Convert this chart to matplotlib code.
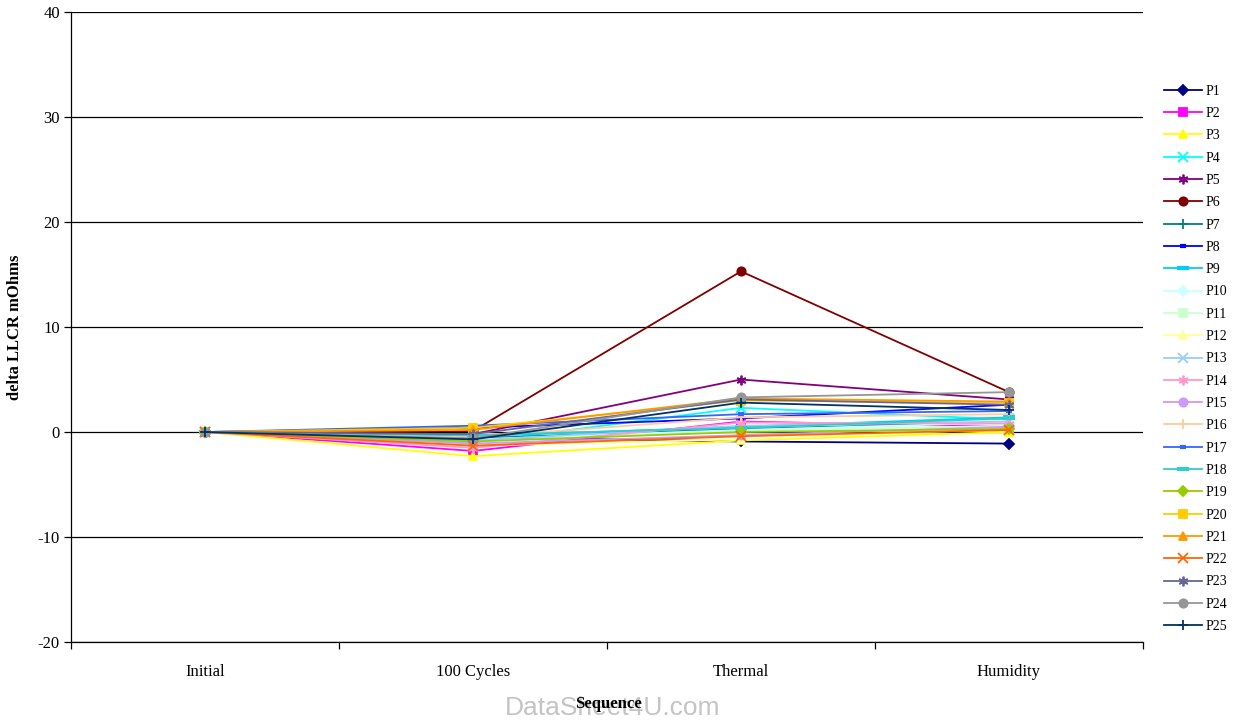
import matplotlib
matplotlib.use("Agg")
import matplotlib.pyplot as plt

plt.rcParams["font.family"] = ["Liberation Serif", "DejaVu Serif"]
plt.rcParams["axes.unicode_minus"] = False

stages = ["Initial", "100 Cycles", "Thermal", "Humidity"]

P1 = [0, -0.5, -0.9, -1.1]
P2 = [0, -1.8, 1.0, 0.5]
P3 = [0, -2.3, -0.8, 0.0]
P4 = [0, -1.0, 2.3, 1.2]
P5 = [0, -0.2, 5.0, 3.1]
P6 = [0, 0.1, 15.3, 3.8]
P7 = [0, -0.6, 0.3, 0.9]
P8 = [0, 0.4, 1.3, 2.6]
P9 = [0, -0.4, 0.5, 1.4]
P10 = [0, -0.7, 0.2, 0.9]
P11 = [0, -0.9, 0.1, 0.6]
P12 = [0, -1.3, -0.7, 0.3]
P13 = [0, -0.8, 0.6, 1.0]
P14 = [0, -1.5, 0.9, 0.8]
P15 = [0, -1.1, -0.3, 0.5]
P16 = [0, -0.5, 1.4, 1.7]
P17 = [0, 0.6, 1.7, 2.0]
P18 = [0, -0.3, 0.4, 1.3]
P19 = [0, -0.9, 0.0, 0.3]
P20 = [0, 0.4, 3.0, 2.8]
P21 = [0, 0.2, 3.2, 2.9]
P22 = [0, -1.3, -0.4, 0.2]
P23 = [0, -0.2, 3.1, 2.6]
P24 = [0, -0.6, 3.3, 3.8]
P25 = [0, -0.7, 2.8, 2.1]

series = [P1, P2, P3, P4, P5, P6, P7, P8, P9, P10, P11, P12, P13,
          P14, P15, P16, P17, P18, P19, P20, P21, P22, P23, P24, P25]
names = ["P%d" % (i + 1) for i in range(len(series))]

colors = ["#000080", "#FF00FF", "#FFFF00", "#00FFFF", "#800080", "#800000",
          "#008080", "#0000FF", "#00CCFF", "#CCFFFF", "#CCFFCC", "#FFFF99",
          "#99CCFF", "#FF99CC", "#CC99FF", "#FFCC99", "#3366FF", "#33CCCC",
          "#99CC00", "#FFCC00", "#FF9900", "#FF6600", "#666699", "#969696",
          "#003366"]
star = (6, 2, 0)
markers = ["D", "s", "^", "x", star, "o", "+", "_", "_",
           "D", "s", "^", "x", star, "o", "+", "_", "_",
           "D", "s", "^", "x", star, "o", "+"]

fig = plt.figure(figsize=(12.33, 7.2), dpi=100)
ax = fig.add_axes([0.0576, 0.1083, 0.8694, 0.875])

x = list(range(len(stages)))
for i, (vals, name) in enumerate(zip(series, names)):
    m = markers[i]
    ms = 6
    mew = 1.3
    if m == "_":
        ms = 5 if (i % 9) == 7 else 8
        mew = 3
    elif m in ("x", "+") or m == star:
        ms = 7
        mew = 1.3
    elif m == "D":
        ms = 5.5
    ax.plot(x, vals, color=colors[i], marker=m, markersize=ms,
            markeredgewidth=mew, markeredgecolor=colors[i],
            markerfacecolor=colors[i], linewidth=1.3, label=name,
            zorder=3 + i)

ax.set_xlim(-0.5, 3.5)
ax.set_ylim(-20, 40)
ax.set_yticks(range(-20, 41, 10))
ax.yaxis.grid(True, color="black", linewidth=0.9)
ax.set_axisbelow(True)
ax.set_xticks(x)
ax.set_xticklabels(stages)
ax.set_xticks([-0.5, 0.5, 1.5, 2.5, 3.5], minor=True)
ax.tick_params(axis="x", which="major", length=0, pad=16, labelsize=12)
ax.tick_params(axis="x", which="minor", length=5, direction="out", width=0.9)
ax.tick_params(axis="y", length=5, direction="out", width=0.9, pad=3,
               labelsize=12)
ax.spines["top"].set_visible(False)
ax.spines["right"].set_visible(False)
ax.spines["left"].set_linewidth(0.9)
ax.spines["bottom"].set_linewidth(0.9)

fig.text(15 / 1233, 1 - 327 / 720, "delta LLCR mOhms", fontsize=12,
         fontweight="bold", rotation=90, ha="center", va="center")
fig.text(613 / 1233, 1 - 708 / 720, "DataSheet4U.com",
         family=["Liberation Sans"], fontsize=19, color="#c4c4c4",
         ha="center", va="center", zorder=0)
fig.text(608 / 1233, 1 - 704 / 720, "Sequence", fontsize=12,
         fontweight="bold", ha="center", va="center", zorder=5)

leg = fig.legend(loc="upper left", bbox_to_anchor=(0.9385, 0.892),
                 frameon=False, fontsize=10, handlelength=2.75,
                 handletextpad=0.2, labelspacing=0.67, borderpad=0)

fig.savefig("out.png", dpi=100)
